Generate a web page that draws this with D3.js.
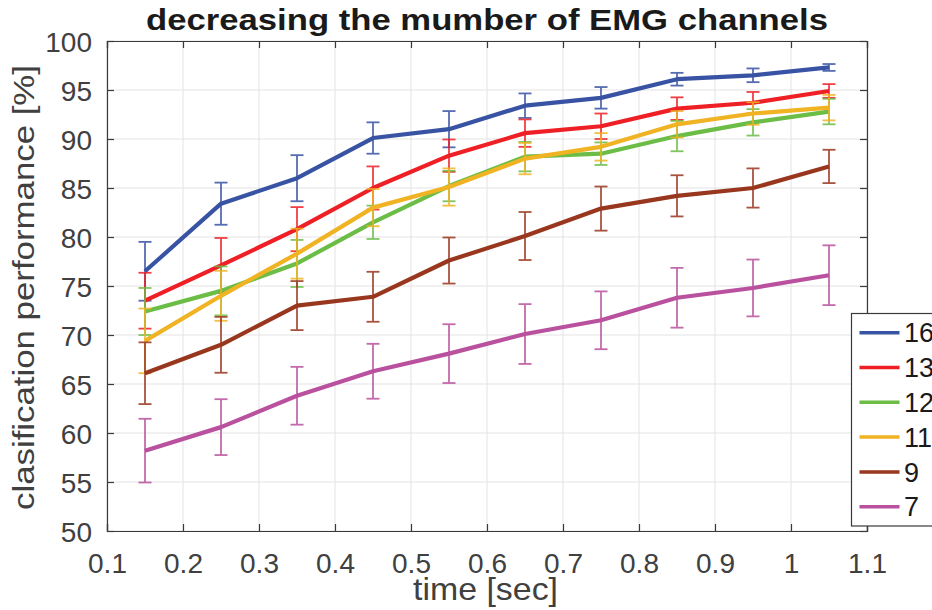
<!DOCTYPE html>
<html>
<head>
<meta charset="utf-8">
<script src="https://cdn.jsdelivr.net/npm/d3@7"></script>
<style>
  html, body { margin: 0; padding: 0; background: #fff; }
  svg { display: block; font-family: "Liberation Sans", Arial, Helvetica, sans-serif; }
</style>
</head>
<body>
<svg id="chart" width="932" height="610"></svg>
<script>
// Window lengths (seconds) at which classification was evaluated
const times = [0.15, 0.25, 0.35, 0.45, 0.55, 0.65, 0.75, 0.85, 0.95, 1.05];

// Number of EMG channels used for each curve
const channelCounts = ["16", "13", "12", "11", "9", "7"];

// Mean classification performance [%] per channel count
const mean16 = [76.5, 83.4, 86.0, 90.1, 91.0, 93.4, 94.2, 96.1, 96.5, 97.3];
const mean13 = [73.5, 77.1, 80.8, 85.0, 88.3, 90.6, 91.3, 93.1, 93.7, 94.9];
const mean12 = [72.4, 74.5, 77.3, 81.5, 85.2, 88.2, 88.5, 90.3, 91.7, 92.8];
const mean11 = [69.4, 74.0, 78.3, 83.0, 85.1, 88.0, 89.2, 91.5, 92.6, 93.2];
const mean9  = [66.1, 69.0, 73.0, 73.9, 77.6, 80.1, 82.9, 84.2, 85.0, 87.2];
const mean7  = [58.2, 60.6, 63.8, 66.3, 68.1, 70.1, 71.5, 73.8, 74.8, 76.1];

// Standard deviation (half error bar height) per channel count
const err16 = [3.0, 2.15, 2.35, 1.6, 1.85, 1.25, 1.1, 0.65, 0.7, 0.35];
const err13 = [2.85, 2.8, 2.25, 2.2, 1.65, 1.4, 1.3, 1.15, 1.1, 0.7];
const err12 = [2.4, 2.5, 2.4, 1.7, 1.55, 1.5, 1.15, 1.55, 1.35, 1.3];
const err11 = [3.3, 2.55, 2.55, 1.9, 1.9, 1.6, 1.4, 1.35, 1.15, 1.3];
const err9  = [3.15, 2.85, 2.5, 2.55, 2.35, 2.45, 2.25, 2.1, 2.0, 1.7];
const err7  = [3.25, 2.85, 2.95, 2.8, 3.0, 3.05, 2.95, 3.05, 2.9, 3.05];

const seriesColors = ["#3953a4", "#ee1f25", "#6bbd45", "#f0b323", "#98361e", "#b9519e"];

// Axis ticks
const xTicks = [0.1, 0.2, 0.3, 0.4, 0.5, 0.6, 0.7, 0.8, 0.9, 1, 1.1];
const yTicks = [50, 55, 60, 65, 70, 75, 80, 85, 90, 95, 100];

const titleText = "decreasing the mumber of EMG channels";
const xLabelText = "time [sec]";
const yLabelText = "clasification performance [%]";

const means = [mean16, mean13, mean12, mean11, mean9, mean7];
const errs = [err16, err13, err12, err11, err9, err7];
const series = channelCounts.map((name, i) => ({
  name,
  color: seriesColors[i],
  points: times.map((t, j) => ({ t, v: means[i][j], e: errs[i][j] }))
}));

const plot = { left: 107, right: 867, top: 41, bottom: 531 };
const svg = d3.select("#chart");

const x = d3.scaleLinear().domain([0.1, 1.1]).range([plot.left, plot.right]);
const y = d3.scaleLinear().domain([50, 100]).range([plot.bottom, plot.top]);

const textColor = "#404040";
const axisColor = "#3a3a3a";

// Grid
const grid = svg.append("g");
grid.selectAll("line.gx").data(xTicks).join("line")
  .attr("x1", d => x(d)).attr("x2", d => x(d))
  .attr("y1", plot.top).attr("y2", plot.bottom)
  .attr("stroke", "#e3e3e3").attr("stroke-width", 1);
grid.selectAll("line.gy").data(yTicks).join("line")
  .attr("x1", plot.left).attr("x2", plot.right)
  .attr("y1", d => y(d)).attr("y2", d => y(d))
  .attr("stroke", "#e3e3e3").attr("stroke-width", 1);

// Axes with inward ticks on all four sides
const fmtX = d => d3.format("")(+d.toFixed(1));
const tickLen = 7;
const axB = svg.append("g").attr("transform", `translate(0,${plot.bottom})`)
  .call(d3.axisBottom(x).tickValues(xTicks).tickSize(-tickLen).tickPadding(20).tickFormat(fmtX));
const axT = svg.append("g").attr("transform", `translate(0,${plot.top})`)
  .call(d3.axisTop(x).tickValues(xTicks).tickSize(-tickLen).tickFormat(""));
const axL = svg.append("g").attr("transform", `translate(${plot.left},0)`)
  .call(d3.axisLeft(y).tickValues(yTicks).tickSize(-tickLen).tickPadding(15));
const axR = svg.append("g").attr("transform", `translate(${plot.right},0)`)
  .call(d3.axisRight(y).tickValues(yTicks).tickSize(-tickLen).tickFormat(""));

[axB, axT, axL, axR].forEach(a => {
  a.select(".domain").attr("stroke", axisColor).attr("stroke-width", 1.2);
  a.selectAll(".tick line").attr("stroke", axisColor).attr("stroke-width", 1.2);
  a.selectAll(".tick text").attr("fill", textColor)
    .style("font-size", "28px").style("font-family", "'Liberation Sans', Arial, sans-serif");
});
axB.selectAll(".tick text").attr("dy", "0.35em").attr("y", 32);
axL.selectAll(".tick text").attr("dy", "0.36em");

// Series: error bars then the mean line, drawn series by series
const line = d3.line().x(d => x(d.t)).y(d => y(d.v));
const capHalf = 6.5;
series.forEach(s => {
  const g = svg.append("g");
  const eb = g.append("g").attr("stroke", s.color).attr("stroke-width", 1.8).attr("opacity", 0.85);
  eb.selectAll("line.v").data(s.points).join("line")
    .attr("x1", d => x(d.t)).attr("x2", d => x(d.t))
    .attr("y1", d => y(d.v - d.e)).attr("y2", d => y(d.v + d.e));
  eb.selectAll("line.top").data(s.points).join("line")
    .attr("x1", d => x(d.t) - capHalf).attr("x2", d => x(d.t) + capHalf)
    .attr("y1", d => y(d.v + d.e)).attr("y2", d => y(d.v + d.e));
  eb.selectAll("line.bot").data(s.points).join("line")
    .attr("x1", d => x(d.t) - capHalf).attr("x2", d => x(d.t) + capHalf)
    .attr("y1", d => y(d.v - d.e)).attr("y2", d => y(d.v - d.e));
  g.append("path").datum(s.points)
    .attr("d", line).attr("fill", "none").attr("stroke", s.color)
    .attr("stroke-width", 4.2).attr("stroke-linejoin", "round");
});

// Title
svg.append("text")
  .attr("x", (plot.left + plot.right) / 2).attr("y", 30)
  .attr("text-anchor", "middle")
  .attr("font-weight", "bold").attr("font-size", 30).attr("fill", "#1a1a1a")
  .attr("textLength", 682).attr("lengthAdjust", "spacingAndGlyphs")
  .text(titleText);

// Axis labels
svg.append("text")
  .attr("x", 485.5).attr("y", 600)
  .attr("text-anchor", "middle").attr("font-size", 32).attr("fill", textColor)
  .attr("textLength", 145).attr("lengthAdjust", "spacingAndGlyphs")
  .text(xLabelText);
svg.append("text")
  .attr("transform", `translate(34,${(65 + 510) / 2}) rotate(-90)`)
  .attr("text-anchor", "middle").attr("font-size", 30).attr("fill", textColor)
  .attr("textLength", 445).attr("lengthAdjust", "spacingAndGlyphs")
  .text(yLabelText);

// Legend
const legend = svg.append("g").attr("transform", "translate(851.5,313.5)");
legend.append("rect").attr("width", 120).attr("height", 212.5)
  .attr("fill", "#fff").attr("stroke", axisColor).attr("stroke-width", 1.2);
const rowH = 34.8;
const items = legend.selectAll("g.item").data(series).join("g")
  .attr("transform", (d, i) => `translate(0,${19.2 + i * rowH})`);
items.append("line").attr("x1", 8).attr("x2", 48).attr("y1", 0).attr("y2", 0)
  .attr("stroke", d => d.color).attr("stroke-width", 3.5);
items.append("text").attr("x", 52.5).attr("y", 0).attr("dy", "0.36em")
  .attr("font-size", 27).attr("fill", "#1a1a1a").text(d => d.name);
</script>
</body>
</html>
